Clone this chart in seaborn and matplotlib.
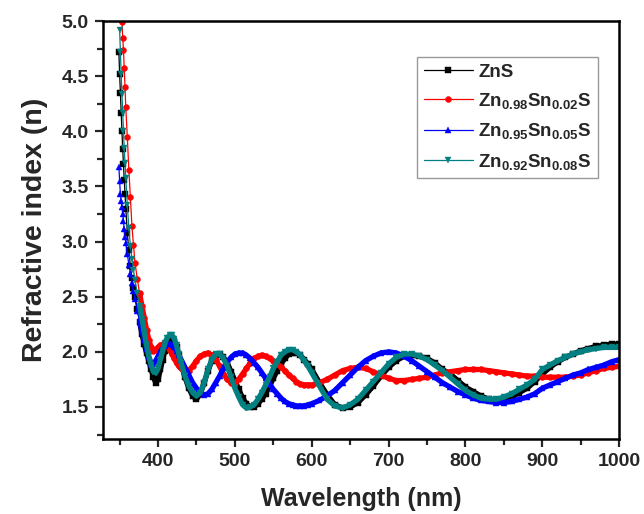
import numpy as np
import pandas as pd
import matplotlib
matplotlib.use("Agg")
import matplotlib.pyplot as plt
from matplotlib.ticker import MultipleLocator
import seaborn as sns

nan = np.nan

wavelength = [349, 350, 351, 352, 353, 354, 355, 356, 357, 358,
              360, 362, 364, 366, 368, 370,
              373, 376, 379, 382, 385, 388, 391, 394, 397, 400, 403, 406, 409,
              412, 415, 418, 421, 424, 427, 430,
              435, 440, 445, 450, 455, 460, 465, 470, 475, 480, 485, 490, 495,
              500, 505, 510, 515, 520, 525, 530, 535, 540, 545, 550, 555, 560,
              565, 570, 575, 580, 585, 590, 595, 600,
              610, 620, 630, 640, 650, 660, 670, 680, 690, 700, 710, 720, 730,
              740, 750, 760, 770, 780, 790, 800, 810, 820, 830, 840, 850, 860,
              870, 880, 890, 900, 910, 920, 930, 940, 950, 960, 970, 980, 990,
              1000]

n_zns = [4.72, 4.52, 4.35, 4.17, 4.00, 3.84, 3.70, 3.56, 3.43, 3.30,
         3.08, 2.92, 2.78, 2.67, 2.58, 2.50,
         2.39, 2.27, 2.16, 2.07, 1.99, 1.92, 1.84, 1.77, 1.72, 1.75, 1.84, 1.93, 2.01,
         2.08, 2.12, 2.13, 2.10, 2.04, 1.97, 1.89,
         1.77, 1.67, 1.60, 1.57, 1.62, 1.72, 1.83, 1.92, 1.97, 1.98, 1.95, 1.90, 1.82,
         1.74, 1.66, 1.58, 1.53, 1.50, 1.50, 1.53, 1.57, 1.62, 1.69, 1.76, 1.83, 1.89,
         1.94, 1.98, 1.99, 1.99, 1.97, 1.93, 1.89, 1.84,
         1.72, 1.61, 1.52, 1.49, 1.50, 1.54, 1.61, 1.69, 1.78, 1.86, 1.92, 1.96, 1.97,
         1.96, 1.94, 1.90, 1.84, 1.80, 1.74, 1.68, 1.64, 1.60, 1.57, 1.56, 1.56, 1.59,
         1.63, 1.67, 1.73, 1.80, 1.86, 1.91, 1.95, 1.98, 2.01, 2.03, 2.05, 2.06, 2.07,
         2.07]

n_sn002 = [nan, nan, nan, 5.15, 4.99, 4.85, 4.74, 4.57, 4.40, 4.22,
           3.95, 3.65, 3.40, 3.14, 2.97, 2.81,
           2.66, 2.53, 2.42, 2.31, 2.20, 2.11, 2.04, 2.01, 2.02, 2.04, 2.06, 2.07, 2.07,
           2.05, 2.02, 1.98, 1.94, 1.90, 1.87, 1.85,
           1.83, 1.83, 1.87, 1.92, 1.96, 1.98, 1.99, 1.97, 1.93, 1.87, 1.80, 1.75, 1.72,
           1.72, 1.75, 1.80, 1.85, 1.90, 1.94, 1.96, 1.97, 1.96, 1.94, 1.92, 1.89, 1.86,
           1.83, 1.79, 1.76, 1.73, 1.71, 1.70, 1.70, 1.70,
           1.72, 1.75, 1.79, 1.83, 1.85, 1.86, 1.85, 1.82, 1.79, 1.76, 1.74, 1.74, 1.75,
           1.76, 1.77, 1.79, 1.81, 1.82, 1.83, 1.84, 1.84, 1.84, 1.83, 1.82, 1.81, 1.80,
           1.79, 1.78, 1.78, 1.77, 1.77, 1.77, 1.77, 1.78, 1.79, 1.81, 1.83, 1.85, 1.86,
           1.87]

n_sn005 = [3.68, 3.55, 3.43, 3.37, 3.31, 3.25, 3.19, 3.11, 3.04, 2.99,
           2.89, 2.79, 2.71, 2.62, 2.55, 2.48,
           2.37, 2.28, 2.19, 2.11, 2.03, 1.95, 1.89, 1.89, 1.92, 1.96, 2.00, 2.03, 2.05,
           2.07, 2.07, 2.06, 2.04, 2.01, 1.97, 1.93,
           1.86, 1.79, 1.72, 1.67, 1.63, 1.61, 1.62, 1.66, 1.72, 1.78, 1.85, 1.91, 1.95,
           1.98, 1.99, 1.99, 1.97, 1.94, 1.90, 1.86, 1.81, 1.76, 1.71, 1.66, 1.62, 1.58,
           1.55, 1.53, 1.52, 1.51, 1.51, 1.51, 1.52, 1.53,
           1.56, 1.60, 1.65, 1.72, 1.79, 1.86, 1.92, 1.96, 1.99, 2.00, 1.99, 1.96, 1.92,
           1.87, 1.82, 1.77, 1.72, 1.68, 1.64, 1.61, 1.58, 1.56, 1.55, 1.54, 1.54, 1.55,
           1.57, 1.59, 1.62, 1.67, 1.70, 1.73, 1.76, 1.79, 1.81, 1.84, 1.86, 1.88, 1.91,
           1.93]

n_sn008 = [nan, 4.92, 4.72, 4.52, 4.34, 4.17, 4.00, 3.85, 3.71, 3.58,
           3.33, 3.12, 2.96, 2.84, 2.74, 2.65,
           2.53, 2.42, 2.30, 2.18, 2.06, 1.96, 1.88, 1.82, 1.81, 1.85, 1.93, 2.01, 2.08,
           2.13, 2.15, 2.15, 2.12, 2.06, 1.98, 1.90,
           1.78, 1.69, 1.63, 1.60, 1.63, 1.72, 1.84, 1.93, 1.98, 1.98, 1.94, 1.87, 1.77,
           1.67, 1.59, 1.52, 1.49, 1.50, 1.52, 1.57, 1.63, 1.70, 1.77, 1.85, 1.91, 1.97,
           2.00, 2.02, 2.02, 2.00, 1.97, 1.92, 1.87, 1.81,
           1.69, 1.57, 1.51, 1.49, 1.52, 1.57, 1.65, 1.73, 1.81, 1.89, 1.95, 1.98, 1.98,
           1.96, 1.93, 1.88, 1.83, 1.77, 1.71, 1.65, 1.61, 1.58, 1.57, 1.57, 1.59, 1.62,
           1.66, 1.70, 1.75, 1.84, 1.88, 1.92, 1.95, 1.98, 2.00, 2.02, 2.03, 2.04, 2.04,
           2.04]

samples = ["ZnS",
           r"Zn$_{0.98}$Sn$_{0.02}$S",
           r"Zn$_{0.95}$Sn$_{0.05}$S",
           r"Zn$_{0.92}$Sn$_{0.08}$S"]
series = [n_zns, n_sn002, n_sn005, n_sn008]
colors = ["#000000", "#ff0000", "#0000ff", "#008080"]
markers = ["s", "o", "^", "v"]

x_ticks = [400, 500, 600, 700, 800, 900, 1000]
y_ticks = [1.5, 2.0, 2.5, 3.0, 3.5, 4.0, 4.5, 5.0]

sns.set_style("ticks")
plt.rcParams["font.family"] = ["Liberation Sans", "DejaVu Sans"]
plt.rcParams.update({
    "font.weight": "bold",
    "axes.labelweight": "bold",
    "mathtext.fontset": "custom",
    "mathtext.rm": "Liberation Sans:bold",
    "mathtext.bf": "Liberation Sans:bold",
    "mathtext.it": "Liberation Sans:bold",
    "mathtext.default": "rm",
    "axes.edgecolor": "black",
})

frames = []
for s, vals in zip(samples, series):
    frames.append(pd.DataFrame({"wavelength": wavelength, "n": vals, "sample": s}))
df = pd.concat(frames, ignore_index=True).dropna()

fig = plt.figure(figsize=(6.44, 5.14), dpi=100)
ax = fig.add_axes([0.1595, 0.146, 0.802, 0.813])

for s, c, m in zip(samples, colors, markers):
    sub = df[df["sample"] == s]
    band = sub[sub["wavelength"] >= 376]
    sns.lineplot(data=band, x="wavelength", y="n", color=c, linewidth=3.8,
                 sort=False, estimator=None, legend=False, ax=ax)
    sns.lineplot(data=sub, x="wavelength", y="n", color=c, linewidth=0.9,
                 marker=m, markersize=4.3, markeredgecolor=c, markeredgewidth=0.3,
                 sort=False, estimator=None, label=s, ax=ax)

ax.set_xlim(328, 1000)
ax.set_ylim(1.21, 5.0)
ax.set_xticks(x_ticks)
ax.set_yticks(y_ticks)
ax.set_xticklabels([str(v) for v in x_ticks])
ax.set_yticklabels([f"{v:.1f}" for v in y_ticks])
ax.xaxis.set_minor_locator(MultipleLocator(50))
ax.yaxis.set_minor_locator(MultipleLocator(0.25))
ax.tick_params(which="major", direction="out", length=6, width=1.6,
               labelsize=14, pad=4, top=False, right=False)
ax.tick_params(which="minor", direction="out", length=4, width=1.6,
               top=False, right=False)
for sp in ax.spines.values():
    sp.set_visible(True)
    sp.set_linewidth(1.8)
    sp.set_color("black")

ax.set_xlabel("Wavelength (nm)", fontsize=18, fontweight="bold", labelpad=12)
ax.set_ylabel("Refractive index (n)", fontsize=20.5, fontweight="bold", labelpad=10)

leg = ax.legend(loc="upper right", bbox_to_anchor=(0.959, 0.914), borderaxespad=0,
                fontsize=13.5, frameon=True, fancybox=False, edgecolor="#808080",
                handlelength=2.6, handletextpad=0.3, labelspacing=0.55,
                borderpad=0.35, numpoints=1)
leg.get_frame().set_linewidth(1.0)
for line in leg.get_lines():
    line.set_linewidth(0.9)

fig.savefig("out.png", dpi=100)
